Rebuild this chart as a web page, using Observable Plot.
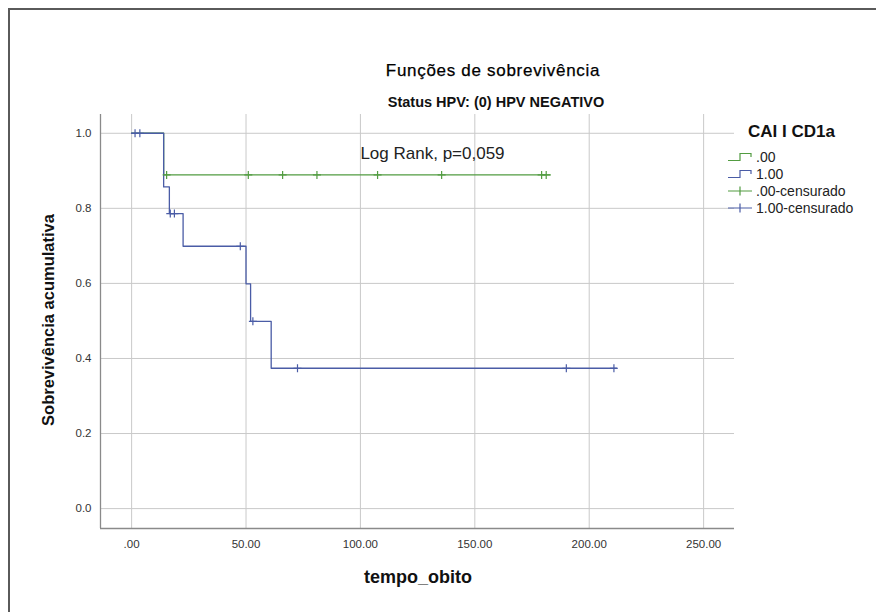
<!DOCTYPE html>
<html><head><meta charset="utf-8">
<script src="https://cdn.jsdelivr.net/npm/d3@7"></script>
<script src="https://cdn.jsdelivr.net/npm/@observablehq/plot@0.6"></script>
<style>
body{margin:0;background:#fff;font-family:"Liberation Sans",Arial,sans-serif;}
#wrap{position:relative;width:876px;height:612px;overflow:hidden;background:#fff}
#frame{position:absolute;left:8px;top:8px;width:900px;height:700px;border:2px solid #5a5a5a;box-sizing:border-box}
#chart{position:absolute;left:0;top:0}
.ov{position:absolute;white-space:nowrap;color:#111}
#title{left:493px;top:71px;transform:translate(-50%,-50%);font-size:17px;letter-spacing:0.7px;color:#000;-webkit-text-stroke:0.25px #000}
#subtitle{left:496px;top:102px;transform:translate(-50%,-50%);font-size:14.5px;font-weight:bold}
#ylab{left:48px;top:320px;transform:translate(-50%,-50%) rotate(-90deg);font-size:16.5px;font-weight:bold}
#xlab{left:418px;top:577px;transform:translate(-50%,-50%);font-size:18px;font-weight:bold}
#legend{position:absolute;left:727px;top:122px}
#legend .lt{position:absolute;left:21px;top:0;font-size:17px;font-weight:bold;white-space:nowrap;color:#111}
#legend .row{position:absolute;left:0;height:16px;display:flex;align-items:center;font-size:14px;white-space:nowrap;color:#222}
#legend svg{margin-right:3px}
</style></head>
<body>
<div id="wrap">
  <div id="frame"></div>
  <div id="chart"></div>
  <div class="ov" id="title">Funções de sobrevivência</div>
  <div class="ov" id="subtitle">Status HPV: (0) HPV NEGATIVO</div>
  <div class="ov" id="ylab">Sobrevivência acumulativa</div>
  <div class="ov" id="xlab">tempo_obito</div>
  <div id="legend"></div>
</div>
<script>
// ---- data ----
const groups = [".00", "1.00"];
const groupColors = ["#529c41", "#4a5ca6"];
const legendLabels = [".00", "1.00", ".00-censurado", "1.00-censurado"];
const legendTitle = "CAI I CD1a";

const stepTimes0 = [0, 14, 183];
const stepSurv0  = [1, 0.889, 0.889];
const stepTimes1 = [0, 14, 16.5, 22.5, 50, 52, 61, 212];
const stepSurv1  = [1, 0.857, 0.786, 0.699, 0.599, 0.499, 0.374, 0.374];

const censTimes0 = [15.3, 51, 66, 81, 107.5, 135.5, 179.2, 181.2];
const censSurv0  = [0.889, 0.889, 0.889, 0.889, 0.889, 0.889, 0.889, 0.889];
const censTimes1 = [1.5, 3.6, 16.9, 18.7, 47.5, 53, 72.5, 190, 210.8];
const censSurv1  = [1, 1, 0.786, 0.786, 0.699, 0.499, 0.374, 0.374, 0.374];

const xTicks = [0, 50, 100, 150, 200, 250];
const xTickLabels = [".00", "50.00", "100.00", "150.00", "200.00", "250.00"];
const yTicks = [0, 0.2, 0.4, 0.6, 0.8, 1.0];
const yTickLabels = ["0.0", "0.2", "0.4", "0.6", "0.8", "1.0"];
const xDomain = [-13.6, 263.5];
const yDomain = [-0.053, 1.05];

const annotText = ["Log Rank, p=0,059"];
const annotX = [131.5];
const annotY = [0.947];

// ---- build tables ----
const steps = [
  ...stepTimes0.map((t, i) => ({t, s: stepSurv0[i], g: groups[0]})),
  ...stepTimes1.map((t, i) => ({t, s: stepSurv1[i], g: groups[1]}))
];
const cens = [
  ...censTimes0.map((t, i) => ({t, s: censSurv0[i], g: groups[0]})),
  ...censTimes1.map((t, i) => ({t, s: censSurv1[i], g: groups[1]}))
];
const annot = annotText.map((txt, i) => ({txt, x: annotX[i], y: annotY[i]}));

const plusSymbol = {
  draw(ctx, size) {
    const r = Math.sqrt(size / Math.PI);
    ctx.moveTo(-r, 0); ctx.lineTo(r, 0);
    ctx.moveTo(0, -r); ctx.lineTo(0, r);
  }
};

const chart = Plot.plot({
  width: 876, height: 612,
  marginLeft: 100, marginRight: 142, marginTop: 114, marginBottom: 84,
  style: {background: "transparent", fontFamily: "'Liberation Sans', Arial, sans-serif", fontSize: "11.5px", color: "#333"},
  x: {domain: xDomain},
  y: {domain: yDomain},
  color: {domain: groups, range: groupColors},
  marks: [
    Plot.gridX(xTicks, {stroke: "#c9c9c9", strokeOpacity: 1, strokeWidth: 1}),
    Plot.gridY(yTicks, {stroke: "#c9c9c9", strokeOpacity: 1, strokeWidth: 1}),
    Plot.axisX(xTicks, {tickSize: 0, tickPadding: 11, tickFormat: (d) => xTickLabels[xTicks.indexOf(d)], label: null, fill: "#333"}),
    Plot.axisY(yTicks, {tickSize: 0, tickPadding: 9, tickFormat: (d) => yTickLabels[yTicks.indexOf(d)], label: null, fill: "#333"}),
    Plot.ruleX([xDomain[0]], {stroke: "#8a8a8a", strokeWidth: 1.3}),
    Plot.ruleY([yDomain[0]], {stroke: "#8a8a8a", strokeWidth: 1.3}),
    Plot.line(steps, {x: "t", y: "s", z: "g", stroke: "g", curve: "step-after", strokeWidth: 1.3}),
    Plot.dot(cens, {x: "t", y: "s", stroke: "g", fill: "none", r: 4, symbol: plusSymbol, strokeWidth: 1.2}),
    Plot.text(annot, {x: "x", y: "y", text: "txt", fontSize: 17, fill: "#222"})
  ]
});
document.getElementById("chart").appendChild(chart);

// ---- legend ----
const leg = document.getElementById("legend");
const lt = document.createElement("div");
lt.className = "lt"; lt.textContent = legendTitle; leg.appendChild(lt);
legendLabels.forEach((lab, i) => {
  const row = document.createElement("div");
  row.className = "row";
  row.style.top = (27 + i * 17) + "px";
  const col = groupColors[i % 2];
  const svg = i < 2
    ? `<svg width="26" height="10"><path d="M1,8.5H13V1.5H24V5" fill="none" stroke="${col}" stroke-width="1.2"/></svg>`
    : `<svg width="26" height="10"><path d="M1,5H25M13,0.5V9.5" fill="none" stroke="${col}" stroke-width="1.2"/></svg>`;
  row.innerHTML = svg + `<span>${lab}</span>`;
  leg.appendChild(row);
});
</script>
</body></html>
